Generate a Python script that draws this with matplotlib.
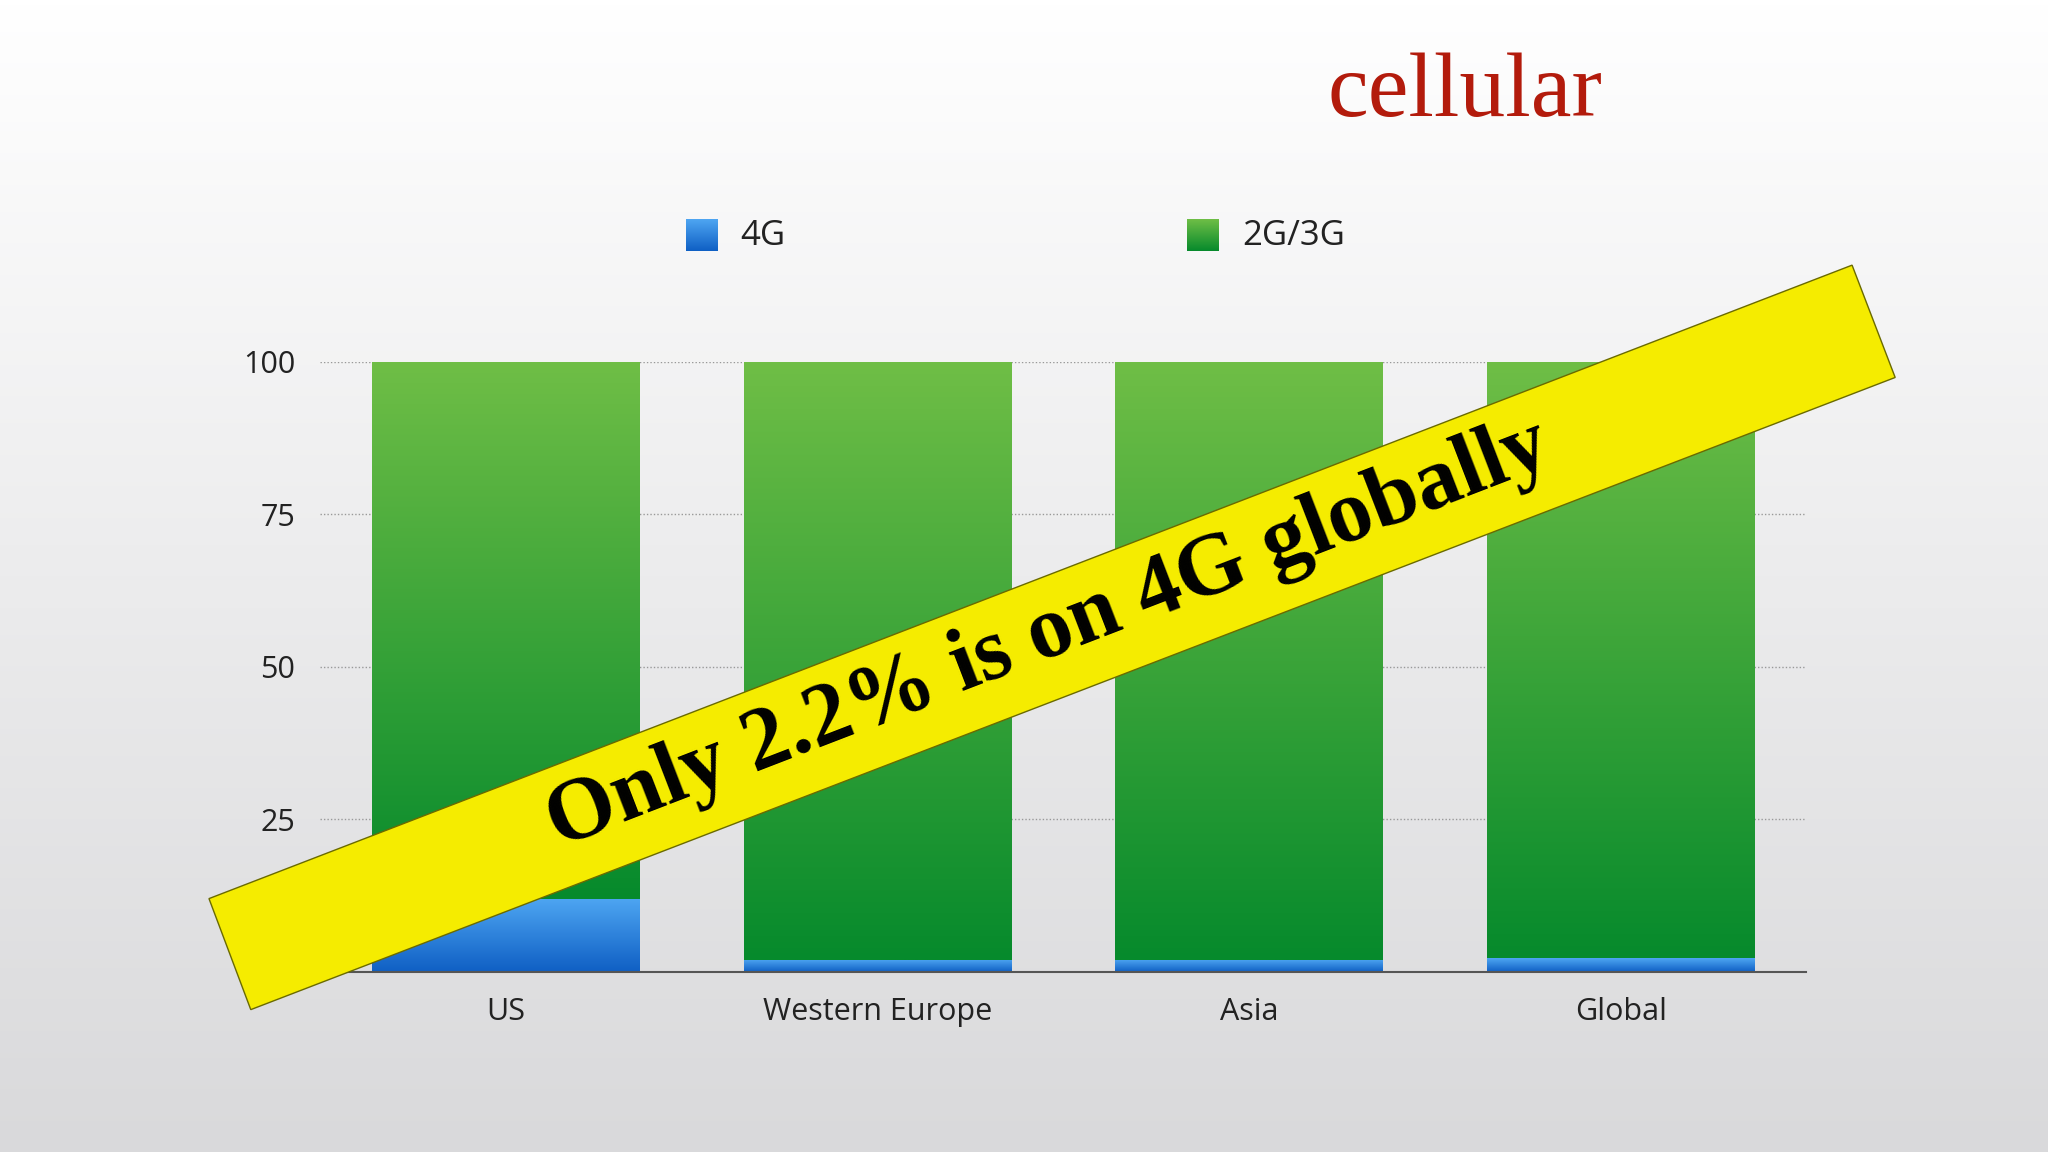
import matplotlib.pyplot as plt
import numpy as np
from matplotlib.patches import Polygon, Rectangle
from matplotlib.colors import LinearSegmentedColormap

categories = ['US', 'Western Europe', 'Asia', 'Global']
share_4g = [12, 2, 2, 2.2]
share_2g3g = [88, 98, 98, 97.8]
yticks = [25, 50, 75, 100]

W, H = 1568, 882  # reference layout units

fig = plt.figure(figsize=(20.48, 11.52), dpi=100)

# background gradient (white top, grey bottom)
bg = fig.add_axes([0, 0, 1, 1], zorder=-10)
grad = np.linspace(0, 1, 256).reshape(-1, 1)
bg_cmap = LinearSegmentedColormap.from_list('bg', ['#d9d9db', '#ffffff'])
bg.imshow(grad, aspect='auto', cmap=bg_cmap, extent=[0, 1, 0, 1], origin='lower')
bg.axis('off')

ax = fig.add_axes([245 / W, 1 - 744 / H, (1383 - 245) / W, (744 - 277) / H])
ax.patch.set_alpha(0)

green = LinearSegmentedColormap.from_list('g', ['#068a2c', '#6fbe46'])
blue = LinearSegmentedColormap.from_list('b', ['#0f5fc4', '#4ea6f2'])
width = 0.72
vert = np.linspace(0, 1, 256).reshape(-1, 1)
for i, (b4, b23) in enumerate(zip(share_4g, share_2g3g)):
    for bottom, h, cm in [(0, b4, blue), (b4, b23, green)]:
        rect = Rectangle((i - width / 2, bottom), width, h, facecolor='none', edgecolor='none')
        ax.add_patch(rect)
        im = ax.imshow(vert, aspect='auto', cmap=cm, origin='lower',
                       extent=[i - width / 2, i + width / 2, bottom, bottom + h], zorder=2)
        im.set_clip_path(rect)
ax.set_xlim(-0.5, 3.5)
ax.set_ylim(0, 100)

for y in yticks:
    ax.axhline(y, color='#999999', lw=1, ls=(0, (1, 1.5)), zorder=1)
for s in ['left', 'right', 'top']:
    ax.spines[s].set_visible(False)
ax.spines['bottom'].set_color('#555555')
ax.spines['bottom'].set_linewidth(1.5)
ax.set_xticks(range(len(categories)))
ax.set_xticklabels(categories, fontsize=22, family='Open Sans', color='#222222')
ax.set_yticks(yticks)
ax.set_yticklabels([str(y) for y in yticks], fontsize=22, family='Open Sans', color='#222222')
ax.tick_params(axis='x', length=0, pad=18)
ax.tick_params(axis='y', length=0, pad=18)

# legend
for sx, label, cm in [(537, '4G', blue), (921, '2G/3G', green)]:
    lx = fig.add_axes([(sx - 12) / W, 1 - 192 / H, 24 / W, 24 / H])
    lx.imshow(vert, aspect='auto', cmap=cm, origin='lower')
    lx.axis('off')
    fig.text((sx + 30) / W, 1 - 181 / H, label, fontsize=25, family='Open Sans',
             color='#222222', va='center')

fig.text(1122 / W, 1 - 72 / H, 'cellular', fontsize=66, family='Liberation Serif',
         color='#b31b0c', ha='center', va='center')

# banner
corners = [(160, 688), (1418, 203), (1451, 289), (192, 773)]
poly = Polygon([(x / W, 1 - y / H) for x, y in corners], closed=True,
               transform=fig.transFigure, facecolor='#f5ec00', edgecolor='#6a6a00',
               lw=1, zorder=20)
fig.patches.append(poly)
fig.text(803 / W, 1 - 486 / H, 'Only 2.2% is on 4G globally', fontsize=64,
         family='Liberation Serif', weight='bold', rotation=21.1,
         rotation_mode='anchor', ha='center', va='center', zorder=21)

fig.savefig('out.png', dpi=100)
